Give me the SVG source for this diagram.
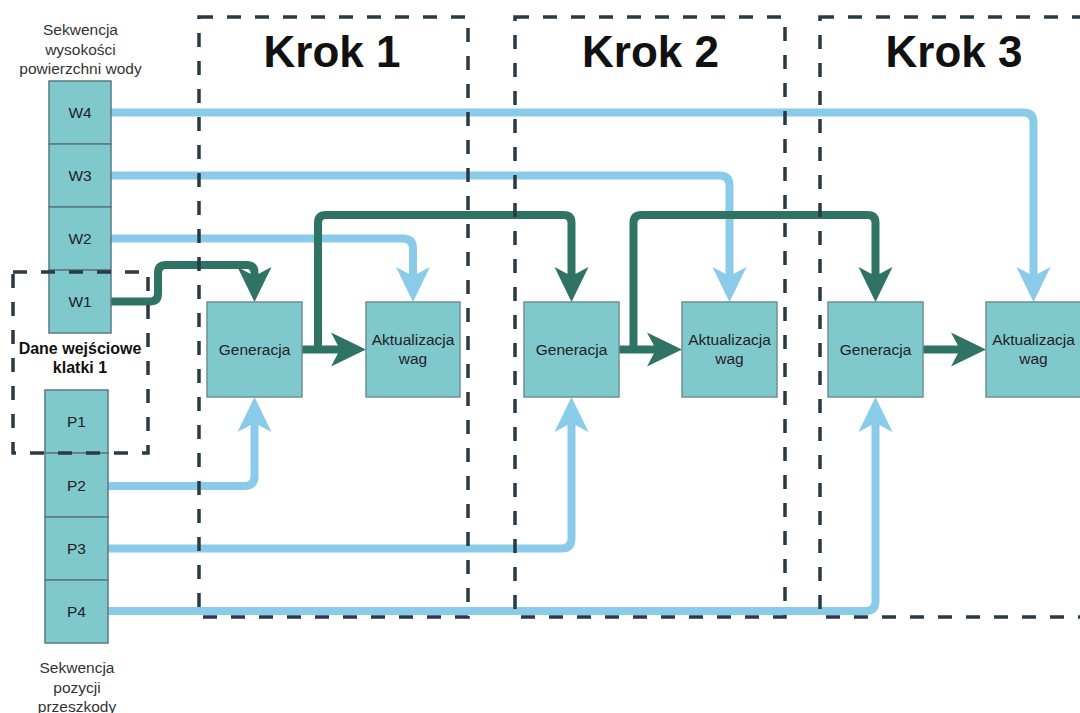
<svg xmlns="http://www.w3.org/2000/svg" width="1080" height="713" viewBox="0 0 1080 713">
<style>
.box{fill:#7fc9cd;stroke:#6f8f93;stroke-width:1.5}
.cell{fill:#7fc9cd;stroke:#5b7a80;stroke-width:1.5}
.t{font-family:"Liberation Sans",Arial,sans-serif;font-size:15.5px;fill:#222;text-anchor:middle}
.lbl{font-family:"Liberation Sans",Arial,sans-serif;font-size:15.5px;fill:#333;text-anchor:middle}
.bold{font-family:"Liberation Sans",Arial,sans-serif;font-weight:bold;fill:#111;text-anchor:middle}
.dash{fill:none;stroke:#2a3a45;stroke-width:3.5;stroke-dasharray:14 14}
.g{fill:none;stroke:#2e7363;stroke-width:8;stroke-linejoin:round}
.b{fill:none;stroke:#89cbe8;stroke-width:8;stroke-linejoin:round}
</style>
<defs>
<marker id="ag" markerUnits="userSpaceOnUse" viewBox="-10 -18 37 36" markerWidth="37" markerHeight="36" refX="0" refY="0" orient="auto">
<path d="M26,0 L-9,-17 L0,0 L-9,17 Z" fill="#2e7363"/>
</marker>
<marker id="ab" markerUnits="userSpaceOnUse" viewBox="-10 -18 37 36" markerWidth="37" markerHeight="36" refX="0" refY="0" orient="auto">
<path d="M26,0 L-9,-17 L0,0 L-9,17 Z" fill="#89cbe8"/>
</marker>
</defs>
<rect width="1080" height="713" fill="#fff"/>

<g id="labels">
<text class="lbl" x="80.5" y="35">Sekwencja</text>
<text class="lbl" x="80.5" y="55">wysokości</text>
<text class="lbl" x="80.5" y="74">powierzchni wody</text>
<text class="lbl" x="77" y="673">Sekwencja</text>
<text class="lbl" x="77" y="693">pozycji</text>
<text class="lbl" x="77" y="712">przeszkody</text>
</g>

<g id="connectors">
<path class="b" d="M111,112.5 H1023.5 Q1033.5,112.5 1033.5,122.5 V276" marker-end="url(#ab)"/>
<path class="b" d="M111,175.5 H719.5 Q729.5,175.5 729.5,185.5 V276" marker-end="url(#ab)"/>
<path class="b" d="M111,238.5 H403 Q413,238.5 413,248.5 V276" marker-end="url(#ab)"/>
<path class="b" d="M108,486 H244.5 Q254.5,486 254.5,476 V423" marker-end="url(#ab)"/>
<path class="b" d="M108,548.5 H561.5 Q571.5,548.5 571.5,538.5 V423" marker-end="url(#ab)"/>
<path class="b" d="M108,611 H865.5 Q875.5,611 875.5,601 V423" marker-end="url(#ab)"/>
<path class="g" d="M111,301.5 H150 Q158,301.5 158,293.5 V273 Q158,265 166,265 H246.5 Q254.5,265 254.5,273 V276" marker-end="url(#ag)"/>
<path class="g" d="M302,349.5 H340" marker-end="url(#ag)"/>
<path class="g" d="M318,349.5 V223 Q318,215 326,215 H563.5 Q571.5,215 571.5,223 V276" marker-end="url(#ag)"/>
<path class="g" d="M619,349.5 H656" marker-end="url(#ag)"/>
<path class="g" d="M633.5,349.5 V223 Q633.5,215 641.5,215 H867.5 Q875.5,215 875.5,223 V276" marker-end="url(#ag)"/>
<path class="g" d="M923,349.5 H960" marker-end="url(#ag)"/>
</g>

<g id="seq-w">
<rect class="cell" x="49" y="81" width="62" height="63"/>
<rect class="cell" x="49" y="144" width="62" height="63"/>
<rect class="cell" x="49" y="207" width="62" height="63"/>
<rect class="cell" x="49" y="270" width="62" height="63"/>
<text class="t" x="80" y="118">W4</text>
<text class="t" x="80" y="181">W3</text>
<text class="t" x="80" y="244">W2</text>
<text class="t" x="80" y="307">W1</text>
</g>

<g id="seq-p">
<rect class="cell" x="45" y="390" width="63" height="63"/>
<rect class="cell" x="45" y="453" width="63" height="64"/>
<rect class="cell" x="45" y="517" width="63" height="63"/>
<rect class="cell" x="45" y="580" width="63" height="63"/>
<text class="t" x="76.5" y="427">P1</text>
<text class="t" x="76.5" y="491">P2</text>
<text class="t" x="76.5" y="554">P3</text>
<text class="t" x="76.5" y="617">P4</text>
</g>

<g id="gen1"><rect class="box" x="207" y="302" width="95" height="95"/><text class="t" x="254.5" y="355">Generacja</text></g>
<g id="akt1"><rect class="box" x="366" y="302" width="94" height="95"/><text class="t" x="413" y="345">Aktualizacja</text><text class="t" x="413" y="364">wag</text></g>
<g id="gen2"><rect class="box" x="524" y="302" width="95" height="95"/><text class="t" x="571.5" y="355">Generacja</text></g>
<g id="akt2"><rect class="box" x="682" y="302" width="95" height="95"/><text class="t" x="729.5" y="345">Aktualizacja</text><text class="t" x="729.5" y="364">wag</text></g>
<g id="gen3"><rect class="box" x="828" y="302" width="95" height="95"/><text class="t" x="875.5" y="355">Generacja</text></g>
<g id="akt3"><rect class="box" x="986" y="302" width="95" height="95"/><text class="t" x="1033.5" y="345">Aktualizacja</text><text class="t" x="1033.5" y="364">wag</text></g>

<g id="input-frame1">
<path class="dash" d="M13,272 H148 V453 H13 Z"/>
<text class="bold" x="80" y="354" font-size="16">Dane wejściowe</text>
<text class="bold" x="80" y="373" font-size="16">klatki 1</text>
</g>

<g id="krok1">
<path class="dash" d="M199,17 H468 V617 H199 Z"/>
<text class="bold" x="332" y="67" font-size="44">Krok 1</text>
</g>
<g id="krok2">
<path class="dash" d="M515,17 H785 V617 H515 Z"/>
<text class="bold" x="650.5" y="67" font-size="44">Krok 2</text>
</g>
<g id="krok3">
<path class="dash" d="M820,17 H1090 V617 H820 Z"/>
<text class="bold" x="954" y="67" font-size="44">Krok 3</text>
</g>
</svg>
